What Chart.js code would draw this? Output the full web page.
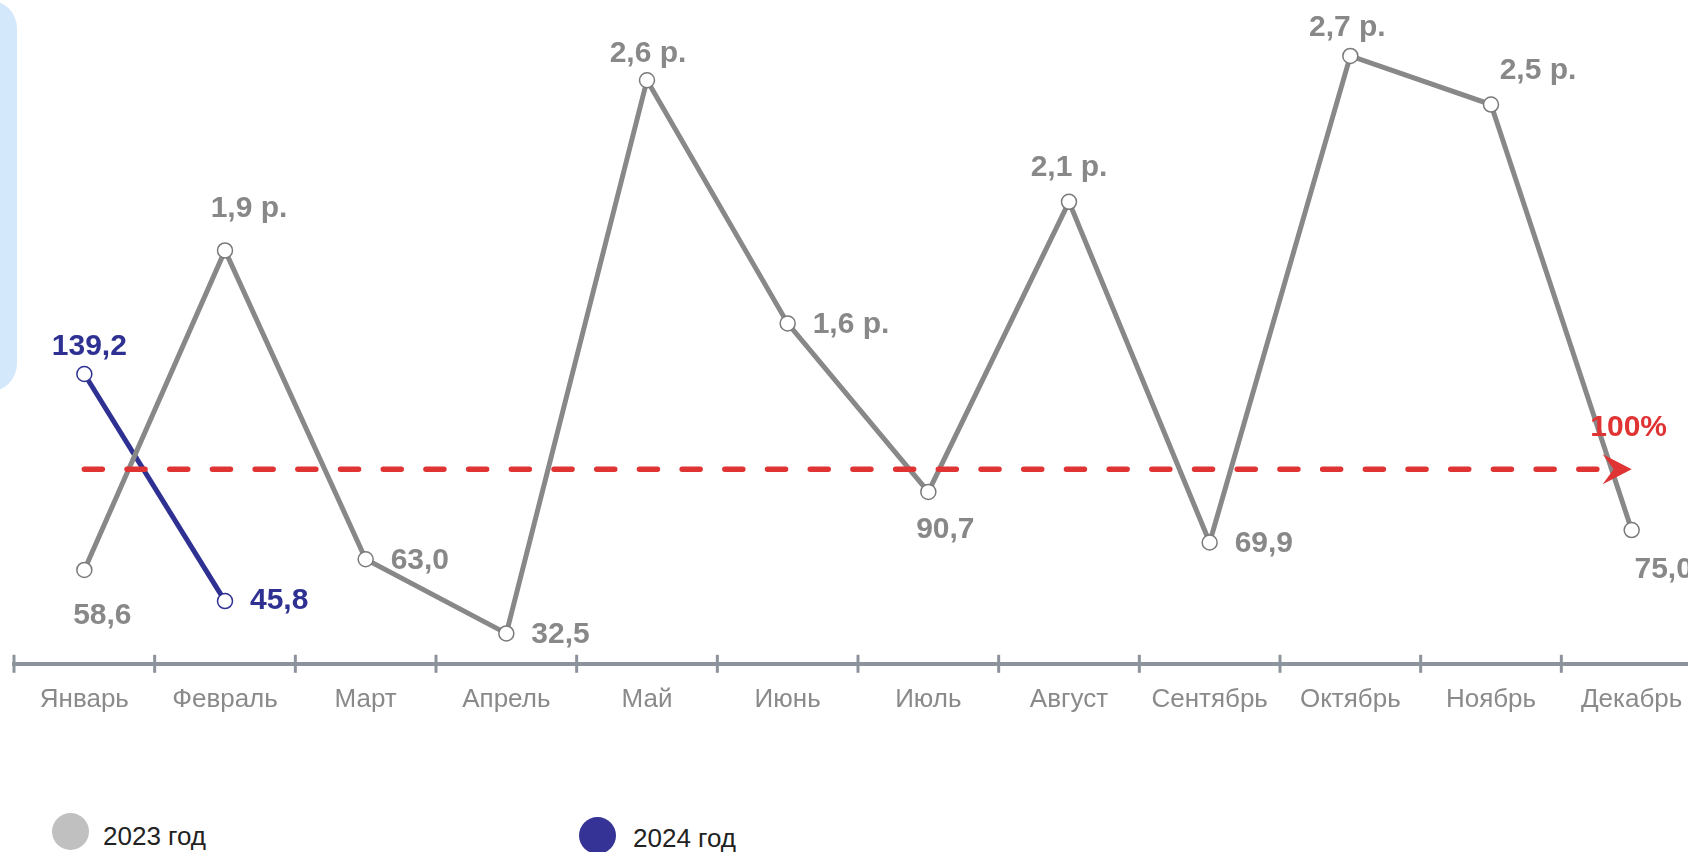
<!DOCTYPE html>
<html>
<head>
<meta charset="utf-8">
<script src="https://cdn.jsdelivr.net/npm/chart.js@4"></script>
<style>
html, body { margin:0; padding:0; background:#fff; overflow:hidden; width:1688px; height:852px; }
#panel { position:absolute; left:-40px; top:0; width:57px; height:392px; border-radius:40px; background:#d4e8fc; }
#wrap { position:absolute; left:0; top:0; width:1712px; height:735px; }
.lg { position:absolute; font-family:"Liberation Sans", Arial, sans-serif; font-size:26px; line-height:30px; color:#222; white-space:nowrap; }
.dot { position:absolute; width:37px; height:37px; border-radius:50%; }
</style>
</head>
<body>
<div id="panel"></div>
<div id="wrap"><canvas id="graphique"></canvas></div>
<div id="legende"></div>
<script>
var mois = ['Январь', 'Февраль', 'Март', 'Апрель', 'Май', 'Июнь', 'Июль', 'Август', 'Сентябрь', 'Октябрь', 'Ноябрь', 'Декабрь'];
var annees = ['2023 год', '2024 год'];
// valeurs en % (1,9 р. = 190 %)
var valeurs2023 = [58.6, 190, 63.0, 32.5, 260, 160, 90.7, 210, 69.9, 270, 250, 75.0];
var textes2023 = ['58,6', '1,9 р.', '63,0', '32,5', '2,6 р.', '1,6 р.', '90,7', '2,1 р.', '69,9', '2,7 р.', '2,5 р.', '75,0'];
var valeurs2024 = [139.2, 45.8];
var textes2024 = ['139,2', '45,8'];
var niveau = 100;
var texteNiveau = '100%';

// placement des etiquettes : [dx, dy, alignement]
var place2023 = [[18,46,'center'],[24,-42,'center'],[25,1,'left'],[25,1,'left'],[1,-27,'center'],[25,1,'left'],
                 [17,38,'center'],[0,-34,'center'],[25,1,'left'],[-3,-28,'center'],[47,-34,'center'],[32,40,'center']];
var place2024 = [[5,-27,'center'],[25,0,'left']];

var gris = '#888888';
var bleu = '#2e3192';
var rouge = '#e03333';
var axe = '#8d939c';
var police = '"Liberation Sans", Arial, sans-serif';

var etiquettes = {
	id: 'etiquettes',
	afterDatasetsDraw: function(chart) {
		var ctx = chart.ctx;
		var xs = chart.scales.x, ys = chart.scales.y;

		// ligne 100% avec fleche
		var x0 = xs.getPixelForValue(0), x1 = xs.getPixelForValue(mois.length - 1);
		var y = ys.getPixelForValue(niveau);
		ctx.save();
		ctx.strokeStyle = rouge;
		ctx.lineWidth = 5.5;
		ctx.lineCap = 'round';
		ctx.setLineDash([18, 24.7]);
		ctx.beginPath();
		ctx.moveTo(x0, y);
		ctx.lineTo(x1 - 22, y);
		ctx.stroke();
		ctx.setLineDash([]);
		ctx.fillStyle = rouge;
		ctx.beginPath();
		ctx.moveTo(x1, y);
		ctx.lineTo(x1 - 29, y - 15);
		ctx.lineTo(x1 - 18, y);
		ctx.lineTo(x1 - 29, y + 15);
		ctx.closePath();
		ctx.fill();
		ctx.font = 'bold 30px ' + police;
		ctx.textAlign = 'center';
		ctx.textBaseline = 'middle';
		ctx.fillText(texteNiveau, x1 - 3, y - 42);

		// etiquettes des points
		var series = [[textes2023, place2023, gris], [textes2024, place2024, bleu]];
		for (var d = 0; d < series.length; d++) {
			var pts = chart.getDatasetMeta(d).data;
			ctx.fillStyle = series[d][2];
			for (var i = 0; i < pts.length; i++) {
				var p = series[d][1][i];
				ctx.textAlign = p[2];
				ctx.fillText(series[d][0][i], pts[i].x + p[0], pts[i].y + p[1]);
			}
		}
		ctx.restore();
	},
	afterDraw: function(chart) {
		// petits traits qui traversent l'axe
		var ctx = chart.ctx;
		var xs = chart.scales.x;
		var yb = chart.chartArea.bottom;
		ctx.save();
		ctx.strokeStyle = axe;
		ctx.lineWidth = 3;
		for (var i = 0; i <= mois.length; i++) {
			var x = xs.getPixelForValue(i - 0.5);
			ctx.beginPath();
			ctx.moveTo(x, yb - 9);
			ctx.lineTo(x, yb + 9);
			ctx.stroke();
		}
		ctx.restore();
	}
};

var graphique = new Chart(document.getElementById('graphique'), {
	type: 'line',
	data: {
		labels: mois,
		datasets: [{
			label: annees[0],
			data: valeurs2023,
			borderColor: gris,
			borderWidth: 5,
			pointRadius: 7.5,
			pointBorderWidth: 1.5,
			pointBackgroundColor: '#fff',
			pointBorderColor: '#7a7a7a',
			tension: 0,
			clip: false
		}, {
			label: annees[1],
			data: valeurs2024,
			borderColor: bleu,
			borderWidth: 5,
			pointRadius: 7.5,
			pointBorderWidth: 1.5,
			pointBackgroundColor: '#fff',
			pointBorderColor: bleu,
			tension: 0,
			clip: false
		}]
	},
	options: {
		responsive: true,
		maintainAspectRatio: false,
		animation: false,
		layout: { autoPadding: false, padding: { left: 14, right: 10, top: 0, bottom: 0 } },
		plugins: { legend: { display: false }, tooltip: { enabled: false } },
		scales: {
			x: {
				offset: true,
				grid: { display: false, drawTicks: false },
				border: { display: true, color: axe, width: 4 },
				ticks: { color: '#8a8a8a', font: { size: 26, family: police }, padding: 20, maxRotation: 0, autoSkip: false }
			},
			y: { display: false, min: 20, max: 293 }
		}
	},
	plugins: [etiquettes]
});

// legende
var leg = document.getElementById('legende');
var couleursLeg = ['#c0c0c0', '#363396'];
var posLeg = [[52, 813, 103, 821], [579, 817, 633, 823]];
for (var k = 0; k < annees.length; k++) {
	var dot = document.createElement('div');
	dot.className = 'dot';
	dot.style.left = posLeg[k][0] + 'px';
	dot.style.top = posLeg[k][1] + 'px';
	dot.style.background = couleursLeg[k];
	leg.appendChild(dot);
	var t = document.createElement('div');
	t.className = 'lg';
	t.style.left = posLeg[k][2] + 'px';
	t.style.top = posLeg[k][3] + 'px';
	t.textContent = annees[k];
	leg.appendChild(t);
}
</script>
</body>
</html>
